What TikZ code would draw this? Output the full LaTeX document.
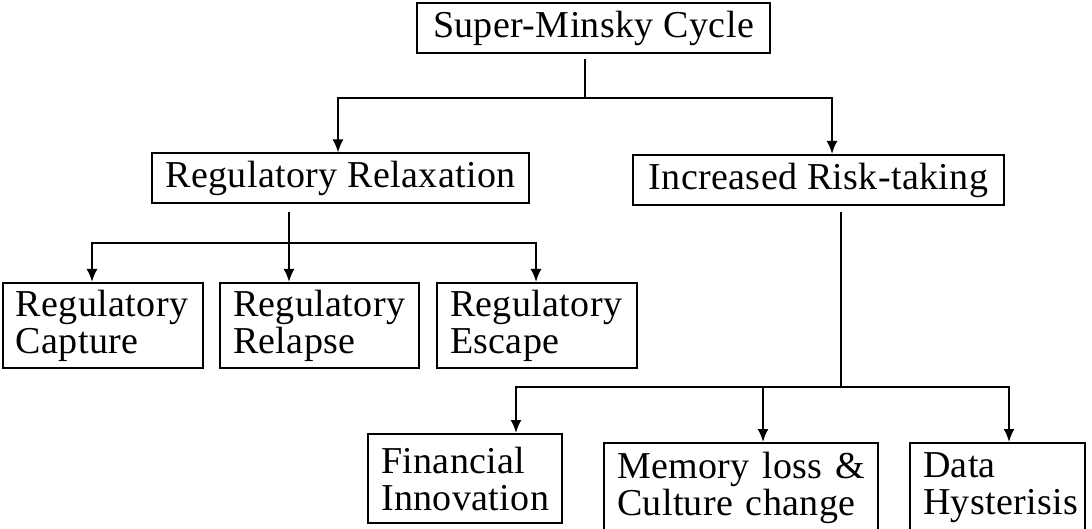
\documentclass[tikz,border=0pt]{standalone}
\usepackage{fontspec}
\setmainfont{Liberation Serif}[LetterSpace=1]
\usetikzlibrary{arrows.meta}

\newcommand{\boxfont}{\fontsize{38}{37}\selectfont}

\begin{document}
\begin{tikzpicture}[
	x=1pt,y=-1pt,
	box/.style={rectangle,draw=black,line width=2pt,inner sep=0pt,font=\boxfont},
	wide/.style={box,minimum height=50pt},
	tall/.style={box,align=left,inner xsep=13pt,minimum height=89pt},
	line/.style={draw=black,line width=2pt},
	conn/.style={>={Latex[length=13pt,width=11pt]},draw=black,line width=2pt}
]
	\useasboundingbox (0,0) rectangle (1092,529);

	\node[wide,minimum width=353pt] (smc) at (593.5,28) {Super-Minsky Cycle};
	\node[wide,minimum width=377pt] (rr) at (340.5,178.5) {Regulatory Relaxation};
	\node[wide,minimum width=371pt] (irt) at (818.5,180) {Increased Risk-taking};

	\node[tall,text width=174pt,minimum height=85pt] (cap) at (103,325.5) {Regulatory\\Capture};
	\node[tall,text width=173pt,minimum height=85pt] (rel) at (319.5,325.5) {Regulatory\\Relapse};
	\node[tall,text width=174pt,minimum height=85pt] (esc) at (537,325.5) {Regulatory\\Escape};

	\node[tall,text width=168pt] (fin) at (465,478.5) {Financial\\Innovation};
	\node[tall,text width=248pt] (mem) at (741,487.5) {Memory loss \&\\Culture change};
	\node[tall,text width=149pt] (dat) at (997.5,487.5) {Data\\Hysterisis};

	% junctions
	\coordinate (j1) at (585,98);
	\coordinate (j2) at (289,243);
	\coordinate (j3) at (841,387);

	\draw[line] ([yshift=-5pt]smc.south -| j1) -- (j1);
	\draw[conn,->] (j1) -| ([xshift=-2.5pt]rr.north);
	\draw[conn,->] (j1) -| ([xshift=13.5pt]irt.north);

	\draw[line] ([yshift=-8pt]rr.south -| j2) -- (j2);
	\draw[conn,->] (j2) -| ([xshift=-11pt]cap.north);
	\draw[conn,->] (j2) -- (rel.north -| j2);
	\draw[conn,->] (j2) -| ([xshift=-1pt]esc.north);

	\draw[line] ([yshift=-6pt]irt.south -| j3) -- (j3);
	\draw[conn,->] (j3) -| ([xshift=51pt]fin.north);
	\draw[conn,->] (j3) -| ([xshift=22pt]mem.north);
	\draw[conn,->] (j3) -| ([xshift=11.5pt]dat.north);

\end{tikzpicture}
\end{document}
